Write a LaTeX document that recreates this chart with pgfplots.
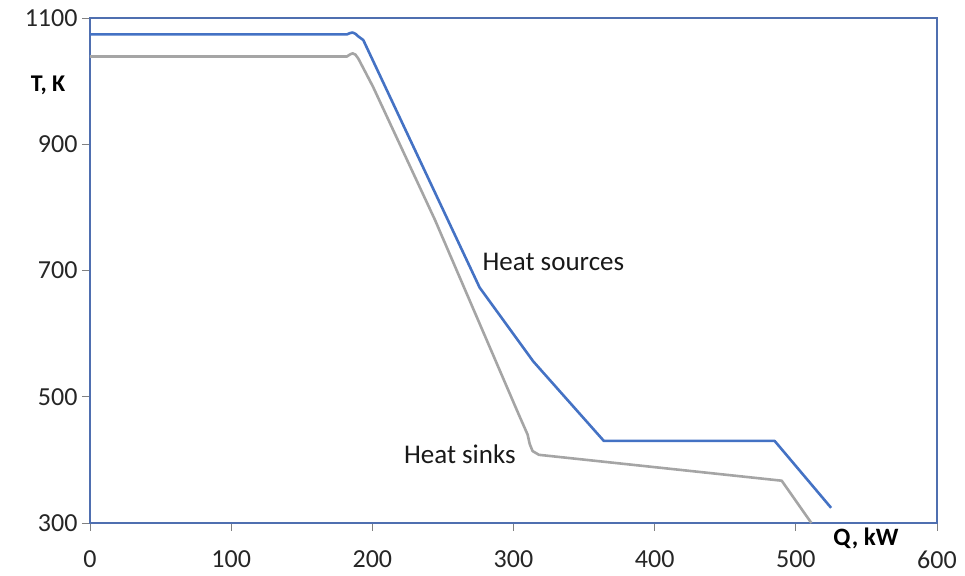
\documentclass[border=0pt]{standalone}
\usepackage{pgfplots}
\pgfplotsset{compat=1.18}
\usepackage{fontspec}
\setmainfont{Carlito}
\definecolor{srcblue}{HTML}{4472C4}
\definecolor{sinkgray}{HTML}{A5A5A5}
\definecolor{frameblue}{HTML}{4F6FB0}
\begin{document}
\begin{tikzpicture}
\begin{axis}[
  scale only axis,
  width=847pt, height=505pt,
  xmin=0, xmax=600, ymin=300, ymax=1100,
  xtick={0,100,...,600}, ytick={300,500,700,900,1100},
  tick pos=left,
  axis line style={frameblue, line width=1.3pt},
  tick style={gray, line width=0.8pt},
  tick align=outside,
  major tick length=8pt,
  /pgf/number format/assume math mode=true,
  /pgf/number format/set thousands separator={},
  tick label style={font=\fontsize{26}{30}\selectfont, text=black!85},
  xticklabel style={yshift=-16pt},
  yticklabel style={xshift=-1pt},
  clip=false,
]
\addplot[srcblue, line width=2.6pt, line join=round] coordinates {
 (0,1074) (182,1074) (184,1076) (186,1077) (188,1075) (190,1071) (193.6,1065)
 (276,673) (314,556) (364,430) (485,430) (525,324)
};
\addplot[sinkgray, line width=2.6pt, line join=round] coordinates {
 (0,1039) (182,1039) (184,1042) (186,1044) (188,1042) (190,1036) (200.5,991)
 (244.4,780) (303.4,473.5) (310,440) (311.5,425) (313.5,414) (318,408) (490,367) (511,300)
};
\node[anchor=west, inner sep=0pt, font=\fontsize{27}{31}\selectfont, text=black!90] at (axis cs:278,713) {Heat sources};
\node[font=\fontsize{27}{31}\selectfont, text=black!90] at (axis cs:262,409) {Heat sinks};
\node[font=\bfseries\fontsize{24}{28}\selectfont] at (axis cs:-29.7,994) {T, K};
\node[font=\bfseries\fontsize{25}{29}\selectfont] at (axis cs:549.7,276) {Q, kW};
\path (rel axis cs:0,0) ++(-90pt,-53pt) coordinate (bbsw);
\path (rel axis cs:1,1) ++(28pt,18pt) coordinate (bbne);
\path (bbsw) (bbne);
\end{axis}
\end{tikzpicture}
\end{document}
